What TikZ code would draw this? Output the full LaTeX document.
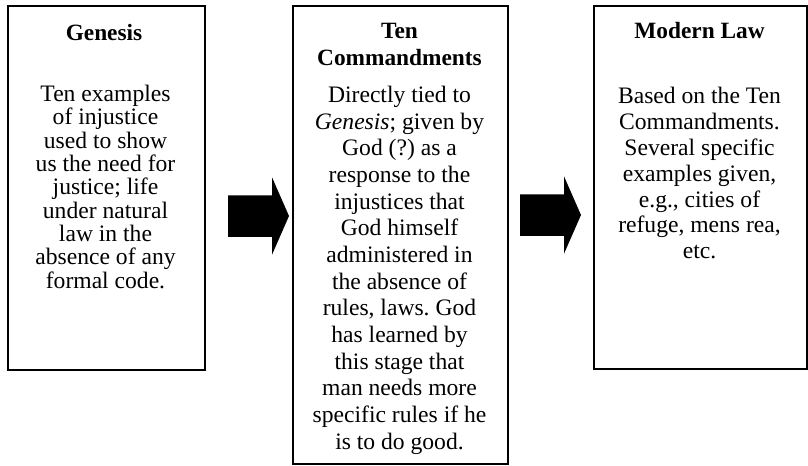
\documentclass[tikz,border=0pt]{standalone}
\usepackage{fontspec}
\setmainfont{Liberation Serif}
\frenchspacing
\usetikzlibrary{calc}
\begin{document}
\begin{tikzpicture}[x=0.75pt,y=-0.75pt,
  panel/.style={draw=black, line width=1.4pt, inner sep=0pt, anchor=north west},
  heading/.style={inner sep=0pt, anchor=north, align=center, font=\fontsize{17.5}{20.3}\selectfont\bfseries},
  bodytext/.style={inner sep=0pt, anchor=north, align=center, font=\fontsize{17.7}{#1}\selectfont},
  blockarrow/.style={fill=black, draw=none}
]
\fill[white] (0,0) rectangle (808,465);
\useasboundingbox (0,0) rectangle (808,465);

% panels
\node[panel, minimum width=147.75pt, minimum height=273pt] (gen) at (7,5) {};
\node[panel, minimum width=161.25pt, minimum height=343.5pt] (ten) at (292,5) {};
\node[panel, minimum width=159.75pt, minimum height=272.25pt] (mod) at (593,5) {};

% texts
\node[heading] (genT) at (104,24) {Genesis};
\node[bodytext=17.5pt] (genB) at (105.5,85) {Ten examples\\of injustice\\used to show\\us the need for\\justice; life\\under natural\\law in the\\absence of any\\formal code.};

\node[heading] (tenT) at (399.5,23) {Ten\\Commandments};
\node[bodytext=20pt] (tenB) at (399.5,86) {Directly tied to\\\textit{Genesis}; given by\\God (?) as a\\response to the\\injustices that\\God himself\\administered in\\the absence of\\rules, laws. God\\has learned by\\this stage that\\man needs more\\specific rules if he\\is to do good.};

\node[heading] (modT) at (699.5,22) {Modern Law};
\node[bodytext=19.4pt] (modB) at (699.5,87) {Based on the Ten\\Commandments.\\Several specific\\examples given,\\e.g., cities of\\refuge, mens rea,\\etc.};

% block arrows
\coordinate (a1s) at (228,216);
\coordinate (a1e) at (289,216);
\coordinate (a2s) at (520,215);
\coordinate (a2e) at (581,215);
\path[blockarrow] (a1s) ++(0,-20.75) -- ++(44,0) -- ++(0,-18) -- (a1e) -- ++(-17,38.75) -- ++(0,-18) -- ++(-44,0) -- cycle;
\path[blockarrow] (a2s) ++(0,-20.75) -- ++(44,0) -- ++(0,-18) -- (a2e) -- ++(-17,38.75) -- ++(0,-18) -- ++(-44,0) -- cycle;
\end{tikzpicture}
\end{document}
